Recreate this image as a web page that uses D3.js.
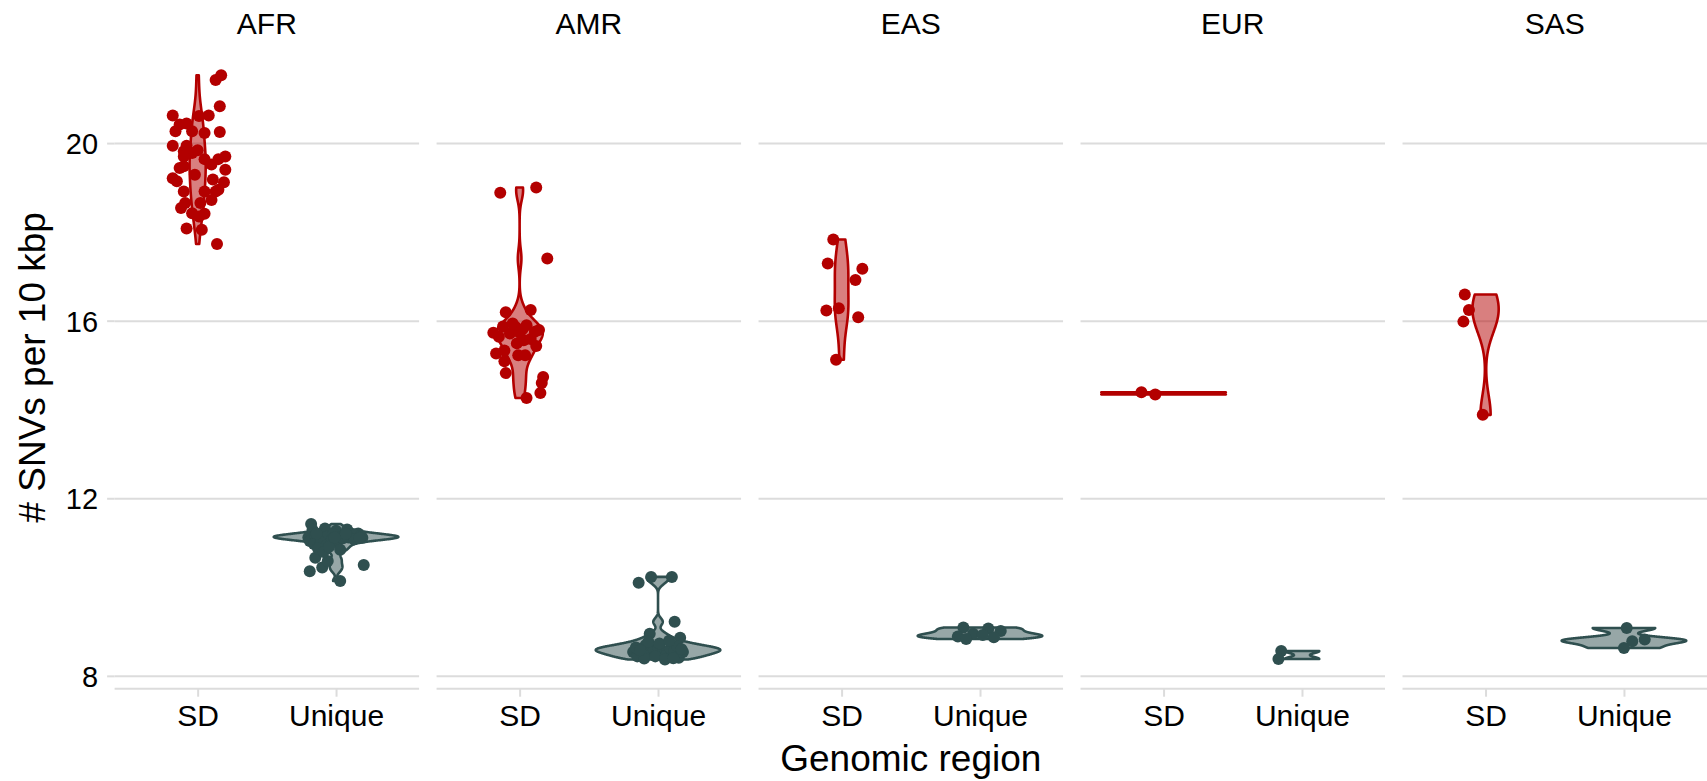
<!DOCTYPE html>
<html><head><meta charset="utf-8">
<script src="https://cdn.jsdelivr.net/npm/d3@7"></script>
<style>
body{margin:0;background:#fff}
svg{display:block}
text{font-family:"Liberation Sans",Arial,Helvetica,sans-serif;fill:#000}
</style>
</head><body>
<svg id="chart" width="1707" height="781"></svg>
<script>
// ---------- data ----------
const populations = ["AFR", "AMR", "EAS", "EUR", "SAS"];
const regions = ["SD", "Unique"];
const yTicks = [8, 12, 16, 20];
const xTitle = "Genomic region";
const yTitle = "# SNVs per 10 kbp";

// values (# SNVs per 10 kbp) and horizontal jitter (fraction of category step)
const afrSD = [21.54,21.43,20.84,20.63,20.62,20.63,20.43,20.45,20.28,20.28,20.24,20.26,19.95,19.95,19.83,19.79,19.71,19.65,19.65,19.71,19.45,19.49,19.41,19.53,19.22,19.15,19.19,19.13,18.92,18.92,18.92,18.96,18.66,18.66,18.73,18.43,18.42,18.36,18.09,18.06,17.74,19.85,19.30,18.55];
const afrSDJitter = [0.17,0.13,0.16,-0.18,0.01,0.08,-0.13,-0.08,-0.16,-0.04,0.05,0.16,-0.18,-0.08,-0.10,-0.04,-0.10,0.05,0.15,0.20,-0.13,-0.10,0.20,0.10,-0.18,-0.15,0.11,0.19,-0.10,0.05,0.13,0.15,-0.09,0.02,0.10,-0.04,0.05,0.01,-0.08,0.03,0.14,0.00,-0.02,-0.12];
const afrUnique = [11.43,10.67,10.45,10.37,10.60,10.15,10.51,11.13,11.30,11.16,11.33,11.14,11.28,11.13,11.31,11.15,11.22,11.12,11.05,11.18,11.10,11.15,11.20,11.12,11.17,11.14,11.19,11.16,10.98,11.02,10.95,11.08,11.04,11.11,11.13,11.09,11.12,10.88,10.80,10.92,10.85,11.22,11.21,11.13];
const afrUniqueJitter = [-0.18,-0.15,-0.10,-0.19,-0.06,0.03,0.20,-0.20,-0.17,-0.12,-0.08,-0.04,0.00,0.04,0.08,0.12,0.16,0.19,-0.19,-0.15,-0.10,-0.06,-0.02,0.02,0.06,0.10,0.14,0.18,-0.16,-0.11,-0.07,-0.03,0.01,0.05,0.09,0.13,0.17,-0.13,-0.09,-0.05,0.03,-0.14,0.07,-0.01];

const amrSD = [18.89,19.01,17.41,16.20,16.25,15.88,15.87,15.91,15.80,15.74,15.65,15.72,15.74,15.57,15.76,15.44,15.27,15.34,15.23,15.23,15.10,14.83,14.74,14.61,14.38,14.27,15.95,15.60,15.50,15.82];
const amrSDJitter = [-0.14,0.12,0.20,-0.10,0.08,-0.12,-0.03,0.05,0.14,-0.19,-0.15,-0.07,0.00,0.03,0.11,0.12,-0.17,-0.11,-0.01,0.04,-0.11,-0.10,0.17,0.16,0.15,0.05,-0.05,0.08,-0.02,0.02];
const amrUnique = [10.11,10.24,10.24,9.23,8.96,8.87,8.55,8.45,8.62,8.70,8.52,8.60,8.66,8.57,8.48,8.63,8.58,8.42,8.55,8.65,8.40,8.45,8.38,8.41,8.68,8.78,8.74,8.80,8.61,8.59];
const amrUniqueJitter = [-0.14,-0.05,0.10,0.12,-0.06,0.16,-0.18,-0.15,-0.12,-0.09,-0.06,-0.03,0.00,0.03,0.06,0.09,0.12,0.15,0.18,-0.16,-0.10,-0.02,0.05,0.11,0.14,-0.07,0.01,0.08,0.17,-0.13];

const easSD = [17.84,17.30,17.18,16.93,16.24,16.29,16.09,15.13];
const easSDJitter = [-0.06,-0.10,0.15,0.10,-0.11,-0.02,0.12,-0.04];
const easUnique = [9.10,9.08,9.02,8.96,8.93,8.90,8.88,8.84];
const easUniqueJitter = [-0.12,0.06,0.15,-0.05,0.02,-0.16,0.10,-0.10];

const eurSD = [14.40,14.35];
const eurSDJitter = [-0.16,-0.06];
const eurUnique = [8.57,8.39];
const eurUniqueJitter = [-0.15,-0.17];

const sasSD = [16.60,16.25,15.99,13.89];
const sasSDJitter = [-0.15,-0.12,-0.16,-0.02];
const sasUnique = [9.09,8.79,8.83,8.64];
const sasUniqueJitter = [0.02,0.06,0.15,0.00];

const regionColors = ["#B30000", "#2F4F4F"];

// ---------- assemble ----------
const table = {
  AFR: {SD: [afrSD, afrSDJitter], Unique: [afrUnique, afrUniqueJitter]},
  AMR: {SD: [amrSD, amrSDJitter], Unique: [amrUnique, amrUniqueJitter]},
  EAS: {SD: [easSD, easSDJitter], Unique: [easUnique, easUniqueJitter]},
  EUR: {SD: [eurSD, eurSDJitter], Unique: [eurUnique, eurUniqueJitter]},
  SAS: {SD: [sasSD, sasSDJitter], Unique: [sasUnique, sasUniqueJitter]}
};

// ---------- layout ----------
const plotLeft = 114.6, plotRight = 1707, plotTop = 46, plotBottom = 688.7;
const svg = d3.select("#chart");

const allVals = populations.flatMap(p => regions.flatMap(r => table[p][r][0]));
const ext = d3.extent(allVals);
const span = ext[1] - ext[0];
const y = d3.scaleLinear().domain([ext[0] - 0.05 * span, ext[1] + 0.05 * span]).range([plotBottom, plotTop]);

const fx = d3.scaleBand().domain(populations).range([plotLeft, plotRight]).paddingInner(0.0543);
const xIn = d3.scalePoint().domain(regions).range([0, fx.bandwidth()]).padding(0.6);
const step = xIn.step();
const color = d3.scaleOrdinal().domain(regions).range(regionColors);

function bwNrd0(x) {
  const s = d3.deviation(x);
  const sorted = x.slice().sort(d3.ascending);
  const iqr = d3.quantileSorted(sorted, 0.75) - d3.quantileSorted(sorted, 0.25);
  let lo = Math.min(s, iqr / 1.34);
  if (!(lo > 0)) lo = s || Math.abs(sorted[0]) || 1;
  return 0.9 * lo * Math.pow(x.length, -0.2);
}
function kde(x) {
  const bw = bwNrd0(x);
  const [mn, mx] = d3.extent(x);
  const n = 512, out = [];
  for (let i = 0; i < n; i++) {
    const v = mn + (mx - mn) * i / (n - 1);
    let s = 0;
    for (const xi of x) { const u = (v - xi) / bw; s += Math.exp(-0.5 * u * u); }
    out.push([v, s / (x.length * bw * Math.sqrt(2 * Math.PI))]);
  }
  return out;
}

const gridColor = "#dcdcdc";

// y ticks labels (first panel only)
const yAxisG = svg.append("g");
yTicks.forEach(t => {
  yAxisG.append("line").attr("x1", plotLeft - 7.5).attr("x2", plotLeft)
    .attr("y1", y(t)).attr("y2", y(t)).attr("stroke", gridColor).attr("stroke-width", 2);
  yAxisG.append("text").attr("x", plotLeft - 16.5).attr("y", y(t)).attr("dy", "0.37em")
    .attr("text-anchor", "end").attr("font-size", 29).text(t);
});

populations.forEach(pop => {
  const g = svg.append("g").attr("transform", `translate(${fx(pop)},0)`);
  const bw = fx.bandwidth();
  // gridlines
  g.selectAll("line.grid").data(yTicks).join("line").attr("class", "grid")
    .attr("x1", 0).attr("x2", bw).attr("y1", d => y(d)).attr("y2", d => y(d))
    .attr("stroke", gridColor).attr("stroke-width", 2);
  // x axis
  const xAxis = d3.axisBottom(xIn).tickSizeOuter(0).tickSizeInner(8).tickPadding(8);
  const ax = g.append("g").attr("transform", `translate(0,${plotBottom})`).call(xAxis);
  ax.select(".domain").attr("stroke", gridColor).attr("stroke-width", 2).attr("d", `M0,0H${bw}`);
  ax.selectAll(".tick line").attr("stroke", gridColor).attr("stroke-width", 2);
  ax.selectAll(".tick text").attr("font-size", 30).attr("fill", "#000")
    .attr("font-family", '"Liberation Sans",Arial,sans-serif').attr("dy", "0.71em");
  // strip title
  g.append("text").attr("x", bw / 2).attr("y", 34).attr("text-anchor", "middle")
    .attr("font-size", 30).text(pop);

  // violins
  const dens = regions.map(r => kde(table[pop][r][0]));
  const maxD = d3.max(dens.flat(), d => d[1]);
  regions.forEach((r, i) => {
    const cx = xIn(r);
    const hw = d => 0.45 * step * d[1] / maxD;
    const pts = dens[i].map(d => [cx + hw(d), y(d[0])])
      .concat(dens[i].slice().reverse().map(d => [cx - hw(d), y(d[0])]));
    g.append("path").attr("d", d3.line()(pts) + "Z")
      .attr("fill", color(r)).attr("fill-opacity", 0.5)
      .attr("stroke", color(r)).attr("stroke-width", 2.6).attr("stroke-linejoin", "round");
  });
  // points
  regions.forEach(r => {
    const [vals, jit] = table[pop][r];
    g.selectAll(null).data(vals.map((v, k) => ({v, j: jit[k]}))).join("circle")
      .attr("cx", d => xIn(r) + d.j * step).attr("cy", d => y(d.v))
      .attr("r", 6).attr("fill", color(r));
  });
});

// axis titles
svg.append("text").attr("x", (plotLeft + plotRight) / 2).attr("y", 771)
  .attr("text-anchor", "middle").attr("font-size", 37).text(xTitle);
svg.append("text").attr("transform", `translate(45,${(plotTop + plotBottom) / 2}) rotate(-90)`)
  .attr("text-anchor", "middle").attr("font-size", 37).text(yTitle);
</script>
</body></html>
